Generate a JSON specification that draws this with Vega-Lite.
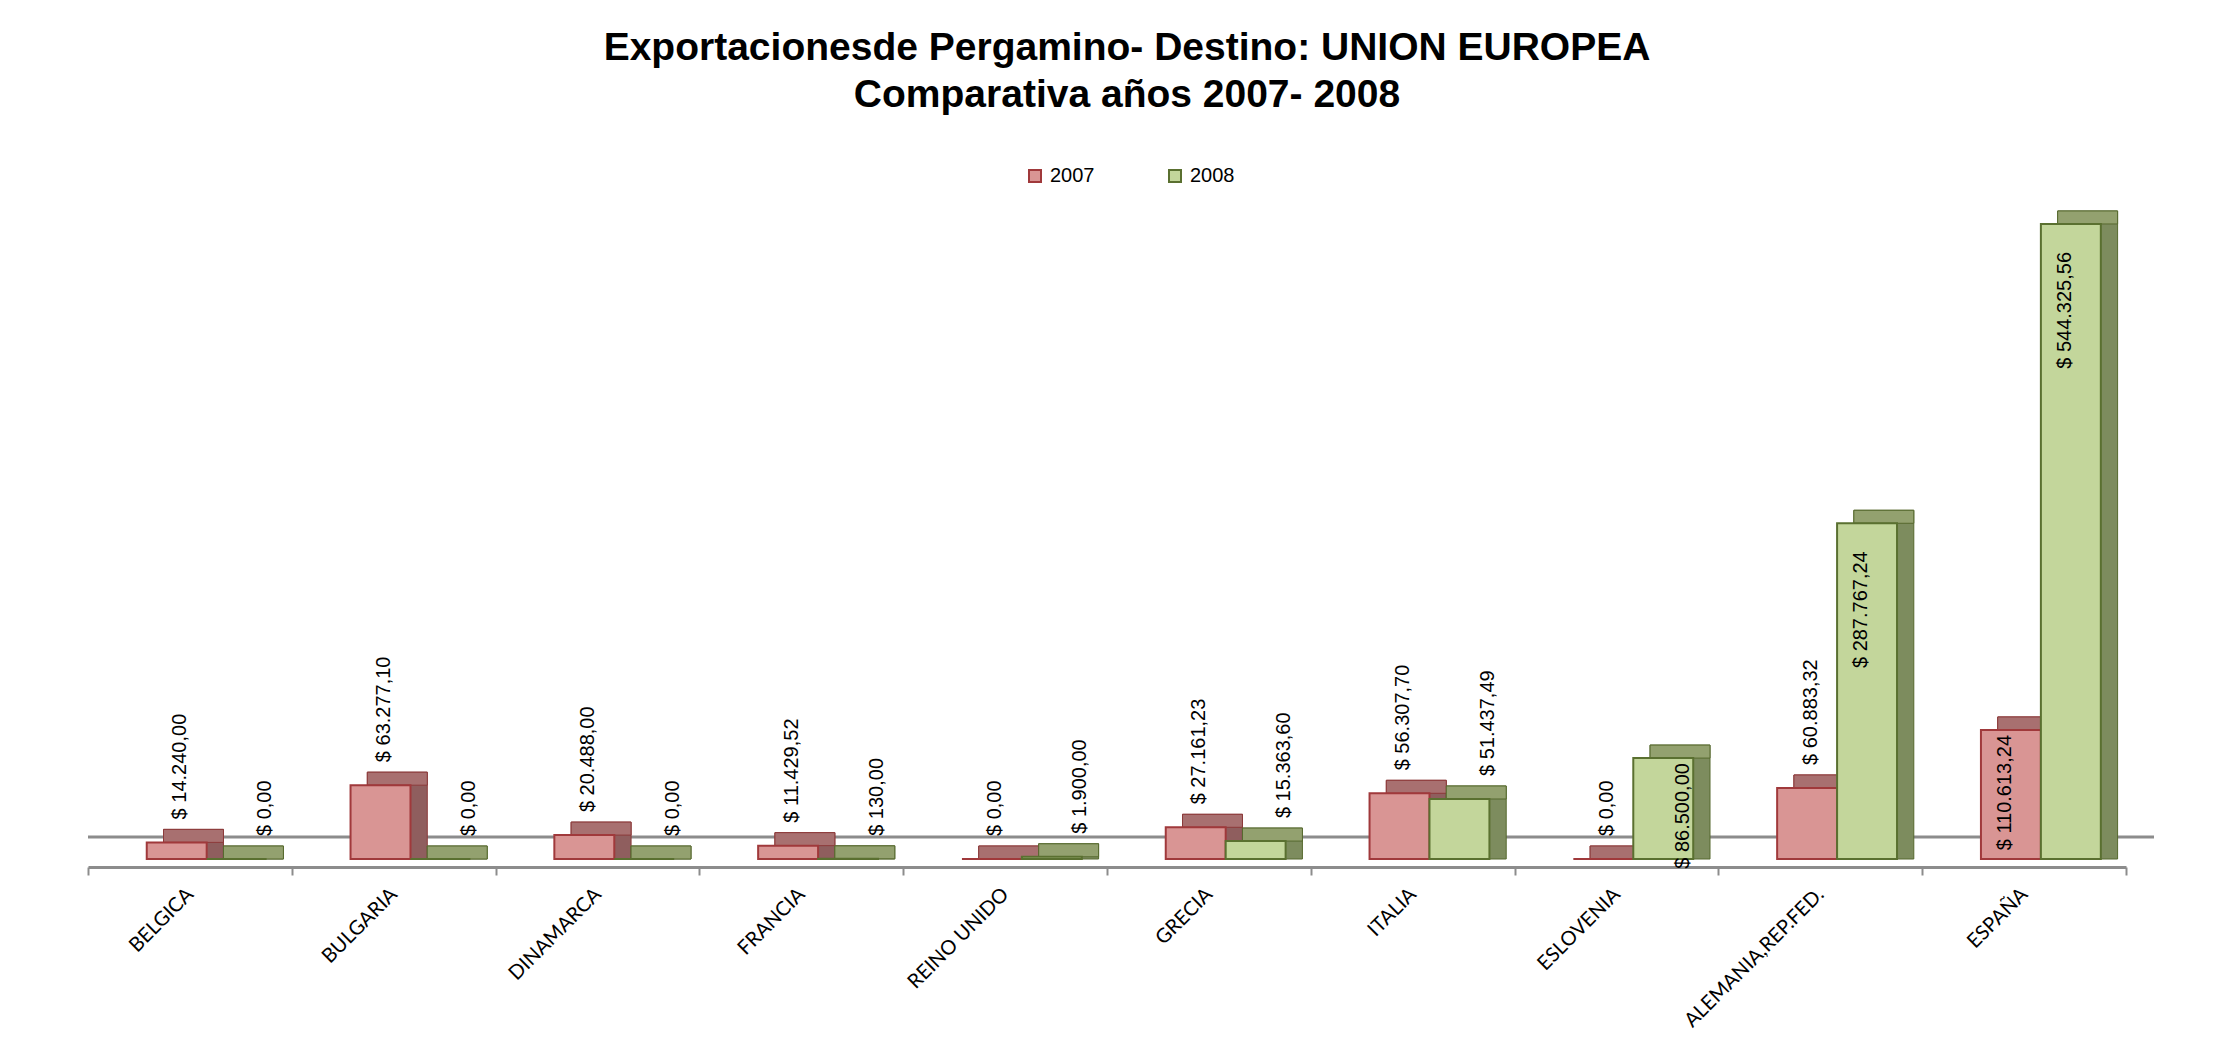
{
  "$schema": "https://vega.github.io/schema/vega-lite/v6.json",
  "width": 2038,
  "height": 700,
  "autosize": {"type": "none"},
  "padding": {"left": 88, "top": 159, "right": 111, "bottom": 198},
  "background": "white",
  "config": {
    "view": {"stroke": null},
    "locale": {"number": {"decimal": ",", "thousands": ".", "grouping": [3], "currency": ["$ ", ""]}}
  },
  "title": {
    "text": ["Exportacionesde Pergamino- Destino: UNION EUROPEA", "Comparativa años 2007- 2008"],
    "font": "Liberation Sans",
    "fontSize": 39,
    "fontWeight": "bold",
    "lineHeight": 47,
    "color": "black",
    "anchor": "middle",
    "frame": "group",
    "dx": 20,
    "offset": 44
  },
  "data": {
    "values": [
      {"pais": "BELGICA", "anio": "2007", "valor": 14240.00},
      {"pais": "BELGICA", "anio": "2008", "valor": 0},
      {"pais": "BULGARIA", "anio": "2007", "valor": 63277.10},
      {"pais": "BULGARIA", "anio": "2008", "valor": 0},
      {"pais": "DINAMARCA", "anio": "2007", "valor": 20488.00},
      {"pais": "DINAMARCA", "anio": "2008", "valor": 0},
      {"pais": "FRANCIA", "anio": "2007", "valor": 11429.52},
      {"pais": "FRANCIA", "anio": "2008", "valor": 130.00},
      {"pais": "REINO UNIDO", "anio": "2007", "valor": 0},
      {"pais": "REINO UNIDO", "anio": "2008", "valor": 1900.00},
      {"pais": "GRECIA", "anio": "2007", "valor": 27161.23},
      {"pais": "GRECIA", "anio": "2008", "valor": 15363.60},
      {"pais": "ITALIA", "anio": "2007", "valor": 56307.70},
      {"pais": "ITALIA", "anio": "2008", "valor": 51437.49},
      {"pais": "ESLOVENIA", "anio": "2007", "valor": 0},
      {"pais": "ESLOVENIA", "anio": "2008", "valor": 86500.00},
      {"pais": "ALEMANIA,REP.FED.", "anio": "2007", "valor": 60883.32},
      {"pais": "ALEMANIA,REP.FED.", "anio": "2008", "valor": 287767.24},
      {"pais": "ESPAÑA", "anio": "2007", "valor": 110613.24},
      {"pais": "ESPAÑA", "anio": "2008", "valor": 544325.56}
    ]
  },
  "layer": [
    {
      "data": {"values": [{"z": 0}]},
      "mark": {"type": "rule", "color": "#8c8c8c", "strokeWidth": 3, "yOffset": -22, "xOffset": 28, "x2Offset": 28},
      "encoding": {"y": {"datum": 0, "type": "quantitative", "scale": {"domain": [0, 600000]}, "axis": null}}
    },
    {
      "encoding": {
        "x": {
          "field": "pais", "type": "nominal", "sort": null,
          "scale": {"paddingInner": 0, "paddingOuter": 0},
          "axis": {
            "title": null, "offset": 8, "tickBand": "extent", "tickSize": 8, "tickColor": "#8c8c8c", "tickWidth": 2,
            "domainColor": "#8c8c8c", "domainWidth": 3,
            "labelAngle": -45, "labelAlign": "right", "labelBaseline": "middle", "labelPadding": 16,
            "labelFont": "Lato", "labelFontSize": 20, "labelColor": "black", "labelLimit": 400, "grid": false
          }
        }
      },
      "resolve": {"scale": {"xOffset": "independent"}},
      "layer": [
        {
          "mark": {"type": "bar", "yOffset": -13, "y2Offset": 0, "strokeWidth": 1},
          "encoding": {
            "xOffset": {"field": "anio", "type": "nominal", "scale": {"paddingInner": 0, "paddingOuter": 0.7, "align": 0.9}},
            "y": {"field": "valor", "type": "quantitative", "scale": {"domain": [0, 600000]}, "axis": null},
            "y2": {"datum": 0},
            "fill": {"condition": {"test": "datum.anio == '2007'", "value": "#8f5e5e"}, "value": "#7d8c5e"},
            "stroke": {"condition": {"test": "datum.anio == '2007'", "value": "#8c3a3a"}, "value": "#56692e"}
          }
        },
        {
          "mark": {"type": "bar", "yOffset": -13, "y2Offset": 0, "strokeWidth": 1},
          "encoding": {
            "xOffset": {"field": "anio", "type": "nominal", "scale": {"paddingInner": 0, "paddingOuter": 0.7, "align": 0.9}},
            "y": {"field": "valor", "type": "quantitative"},
            "y2": {"field": "valor"},
            "fill": {"condition": {"test": "datum.anio == '2007'", "value": "#a87070"}, "value": "#93a16f"},
            "stroke": {"condition": {"test": "datum.anio == '2007'", "value": "#8c3a3a"}, "value": "#56692e"}
          }
        },
        {
          "mark": {"type": "bar", "strokeWidth": 2},
          "encoding": {
            "xOffset": {"field": "anio", "type": "nominal", "scale": {"paddingInner": 0, "paddingOuter": 0.7, "align": 0.7}},
            "y": {"field": "valor", "type": "quantitative"},
            "fill": {
              "field": "anio", "type": "nominal",
              "scale": {"domain": ["2007", "2008"], "range": ["#d99594", "#c3d69b"]},
              "legend": {
                "orient": "none", "legendX": 937, "legendY": 7, "direction": "horizontal", "title": null,
                "symbolType": "square", "symbolSize": 144, "symbolStrokeWidth": 2,
                "labelFont": "Liberation Sans", "labelFontSize": 20, "labelColor": "black", "labelOffset": 5,
                "columnPadding": 70, "padding": 0
              }
            },
            "stroke": {
              "field": "anio", "type": "nominal",
              "scale": {"domain": ["2007", "2008"], "range": ["#a0393b", "#5a7030"]},
              "legend": {
                "orient": "none", "legendX": 937, "legendY": 7, "direction": "horizontal", "title": null,
                "symbolType": "square", "symbolSize": 144, "symbolStrokeWidth": 2,
                "labelFont": "Liberation Sans", "labelFontSize": 20, "labelColor": "black", "labelOffset": 5,
                "columnPadding": 70, "padding": 0
              }
            }
          }
        },
        {
          "transform": [{"filter": "datum.valor < 80000"}],
          "mark": {"type": "text", "angle": -90, "align": "left", "baseline": "middle", "dx": 23, "dy": 9, "font": "Liberation Sans", "fontSize": 20, "color": "black"},
          "encoding": {
            "xOffset": {"field": "anio", "type": "nominal", "scale": {"paddingInner": 0, "paddingOuter": 0.7, "align": 0.7}},
            "y": {"field": "valor", "type": "quantitative"},
            "text": {"field": "valor", "type": "quantitative", "format": "$,.2f"}
          }
        },
        {
          "transform": [{"filter": "datum.valor >= 80000 && datum.valor < 200000"}],
          "mark": {"type": "text", "angle": -90, "align": "right", "baseline": "middle", "dx": -5, "dy": 0, "font": "Liberation Sans", "fontSize": 20, "color": "black"},
          "encoding": {
            "xOffset": {"field": "anio", "type": "nominal", "scale": {"paddingInner": 0, "paddingOuter": 0.7, "align": 0.7}},
            "y": {"field": "valor", "type": "quantitative"},
            "text": {"field": "valor", "type": "quantitative", "format": "$,.2f"}
          }
        },
        {
          "transform": [{"filter": "datum.valor >= 200000"}],
          "mark": {"type": "text", "angle": -90, "align": "right", "baseline": "middle", "dx": -28, "dy": 0, "font": "Liberation Sans", "fontSize": 20, "color": "black"},
          "encoding": {
            "xOffset": {"field": "anio", "type": "nominal", "scale": {"paddingInner": 0, "paddingOuter": 0.7, "align": 0.7}},
            "y": {"field": "valor", "type": "quantitative"},
            "text": {"field": "valor", "type": "quantitative", "format": "$,.2f"}
          }
        }
      ]
    }
  ]
}
